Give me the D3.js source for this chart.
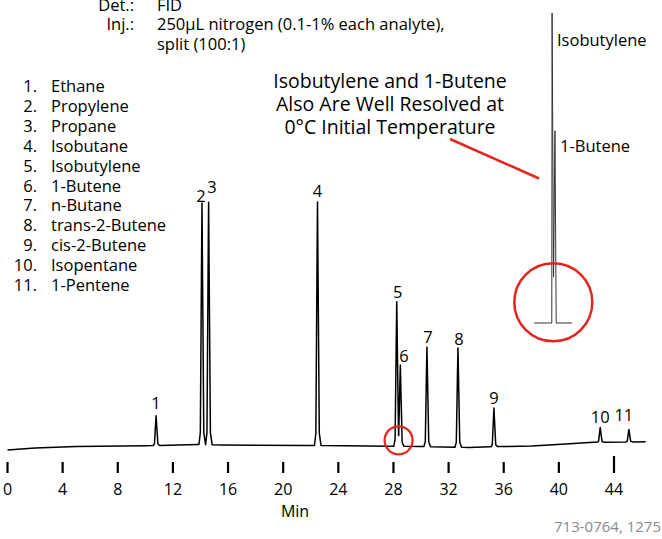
<!DOCTYPE html>
<html>
<head>
<meta charset="utf-8">
<script src="https://cdn.jsdelivr.net/npm/d3@7"></script>
<style>
  body { margin: 0; background: #fff; }
  svg { display: block; font-family: "Open Sans", sans-serif; }
</style>
</head>
<body>
<svg id="chart" width="662" height="539"></svg>
<script>
// compound list, in elution order
var compounds = ["Ethane", "Propylene", "Propane", "Isobutane", "Isobutylene", "1-Butene",
  "n-Butane", "trans-2-Butene", "cis-2-Butene", "Isopentane", "1-Pentene"];

// retention time (min) and peak height above baseline (arbitrary units, 0-100)
var peakTimes   = [10.78, 14.11, 14.59, 22.49, 28.24, 28.50, 30.43, 32.68, 35.29, 43.00, 45.08];
var peakHeights = [11.9, 96.6, 97.0, 97.4, 57.8, 32.5, 39.8, 39.7, 15.5, 5.9, 5.0];

// baseline drift
var baseTimes  = [0, 2, 5, 10, 13.8, 15.5, 22, 27.8, 30, 33.5, 35, 38, 40.5, 42.5, 46.3];
var baseSignal = [0, 0.8, 1.4, 1.7, 2.2, 2.0, 1.8, 1.5, 1.4, 1.0, 1.3, 1.6, 2.4, 3.1, 3.3];

var tickValues = [0, 4, 8, 12, 16, 20, 24, 28, 32, 36, 40, 44];

// expanded view of peaks 5 and 6
var insetTimes  = [28.10, 28.334, 28.338, 28.357, 28.376, 28.392, 28.60];
var insetSignal = [0, 0, 100, 14.8, 62, 0, 0];

var headerLabels = ["Det.:", "Inj.:", ""];
var headerValues = ["FID", "250\u00b5L nitrogen (0.1-1% each analyte),", "split (100:1)"];
var noteLines = ["Isobutylene and 1-Butene", "Also Are Well Resolved at", "0\u00b0C Initial Temperature"];

var RED = "#e3251f";

var svg = d3.select("#chart");

var x = d3.scaleLinear().domain([0, 44]).range([7.5, 614]);
var y = d3.scaleLinear().domain([0, 100]).range([450, 200]);

// peak outline: [time offset, fraction of height]
var shape = [[-0.22, 0], [-0.12, 0.05], [-0.04, 0.7], [0, 1], [0.04, 0.7], [0.13, 0.05], [0.26, 0]];

var baseline = d3.scaleLinear().domain(baseTimes).range(baseSignal);
var peakFns = peakTimes.map(function(t, i) {
  return d3.scaleLinear()
    .domain(shape.map(function(s) { return t + s[0]; }))
    .range(shape.map(function(s) { return s[1] * peakHeights[i]; }))
    .clamp(true);
});

var times = baseTimes.slice();
peakTimes.forEach(function(t) {
  shape.forEach(function(s) { times.push(t + s[0]); });
});
times.sort(d3.ascending);

var trace = times.map(function(t) {
  var v = baseline(t);
  peakFns.forEach(function(f) { v += f(t); });
  return [t, v];
});

var line = d3.line().x(function(d) { return x(d[0]); }).y(function(d) { return y(d[1]); });

svg.append("path")
  .datum(trace)
  .attr("d", line)
  .attr("fill", "none")
  .attr("stroke", "#000")
  .attr("stroke-width", 1.5)
  .attr("stroke-linejoin", "round");

// peak numbers, nudged next to the apex like the original
var labelOffsets = [[0, -7], [-1, -1.5], [3.4, -9], [0, -5.3], [1, -3.4], [3.7, -3.3], [1, -4], [1, -3], [0, -4], [0, -4.4], [-5, -8.3]];
svg.selectAll("text.peak")
  .data(peakTimes)
  .enter().append("text")
  .attr("class", "peak")
  .attr("x", function(d, i) { return x(d) + labelOffsets[i][0]; })
  .attr("y", function(d, i) { return y(baseline(d) + peakHeights[i]) + labelOffsets[i][1]; })
  .attr("text-anchor", "middle")
  .attr("font-size", 16.5)
  .text(function(d, i) { return i + 1; });

// time axis
var ticks = svg.append("g");
ticks.selectAll("line")
  .data(tickValues)
  .enter().append("line")
  .attr("x1", function(d) { return x(d); })
  .attr("x2", function(d) { return x(d); })
  .attr("y1", function(d) { return d === 44 ? 456 : 462; })
  .attr("y2", 473)
  .attr("stroke", "#000")
  .attr("stroke-width", 2.2);
ticks.selectAll("text")
  .data(tickValues)
  .enter().append("text")
  .attr("x", function(d) { return x(d); })
  .attr("y", 495)
  .attr("text-anchor", "middle")
  .attr("font-size", 16)
  .text(function(d) { return d; });
svg.append("text")
  .attr("x", 295).attr("y", 517)
  .attr("text-anchor", "middle")
  .attr("font-size", 16)
  .text("Min");

// header
headerLabels.forEach(function(d, i) {
  var yy = 10.5 + i * 19.5;
  svg.append("text").attr("x", 134).attr("y", yy).attr("text-anchor", "end")
    .attr("font-size", 16.5).text(d);
  svg.append("text").attr("x", 157).attr("y", yy)
    .attr("font-size", 16.5).text(headerValues[i]);
});

// legend
var legend = svg.append("g");
compounds.forEach(function(d, i) {
  var yy = 92 + i * 19.9;
  legend.append("text").attr("x", 37).attr("y", yy).attr("text-anchor", "end")
    .attr("font-size", 16.5).text((i + 1) + ".");
  legend.append("text").attr("x", 51).attr("y", yy)
    .attr("font-size", 16.5).text(d);
});

// note
noteLines.forEach(function(d, i) {
  svg.append("text").attr("x", 390).attr("y", 88 + i * 23)
    .attr("text-anchor", "middle").attr("font-size", 19.5).text(d);
});
svg.append("line")
  .attr("x1", 450).attr("y1", 139).attr("x2", 539).attr("y2", 178.5)
  .attr("stroke", RED).attr("stroke-width", 2.5);

// inset
var xi = d3.scaleLinear().domain([28.10, 28.60]).range([534, 572]);
var yi = d3.scaleLinear().domain([0, 100]).range([323, 13]);
svg.append("path")
  .datum(d3.zip(insetTimes, insetSignal))
  .attr("d", d3.line().x(function(d) { return xi(d[0]); }).y(function(d) { return yi(d[1]); }))
  .attr("fill", "none")
  .attr("stroke", "#333")
  .attr("stroke-width", 1);
svg.append("text").attr("x", 557).attr("y", 46).attr("font-size", 16.5).text(compounds[4]);
svg.append("text").attr("x", 560).attr("y", 151.5).attr("font-size", 16.5).text(compounds[5]);

// highlight circles
svg.append("circle").attr("cx", 553.3).attr("cy", 302.2).attr("r", 39)
  .attr("fill", "none").attr("stroke", RED).attr("stroke-width", 2.5);
svg.append("circle").attr("cx", 398.6).attr("cy", 440.3).attr("r", 14)
  .attr("fill", "none").attr("stroke", RED).attr("stroke-width", 2.2);

// figure id
svg.append("text").attr("x", 661).attr("y", 531.5).attr("text-anchor", "end")
  .attr("font-size", 15).attr("fill", "#8a8a8a").text("713-0764, 1275");
</script>
</body>
</html>
